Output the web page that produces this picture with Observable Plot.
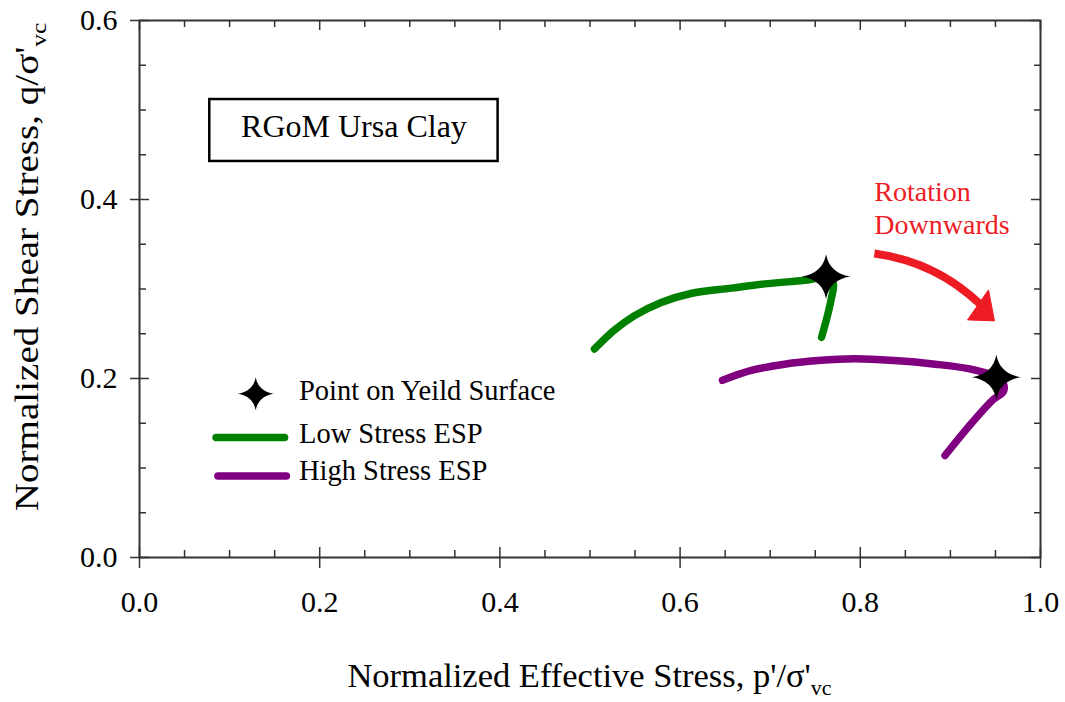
<!DOCTYPE html>
<html>
<head>
<meta charset="utf-8">
<script src="https://cdn.jsdelivr.net/npm/d3@7"></script>
<script src="https://cdn.jsdelivr.net/npm/@observablehq/plot@0.6"></script>
<style>
  html, body { margin: 0; padding: 0; background: #fff; }
  #chart { width: 1065px; height: 702px; }
</style>
</head>
<body>
<div id="chart"></div>
<script>
// ---- Data ----
const xMajorTicks = [0.0, 0.2, 0.4, 0.6, 0.8, 1.0];
const xMinorTicks = [0.05, 0.1, 0.15, 0.25, 0.3, 0.35, 0.45, 0.5, 0.55, 0.65, 0.7, 0.75, 0.85, 0.9, 0.95];
const yMajorTicks = [0.0, 0.2, 0.4, 0.6];
const yMinorTicks = [0.05, 0.1, 0.15, 0.25, 0.3, 0.35, 0.45, 0.5, 0.55];

const lowStressP = [0.505, 0.527, 0.549, 0.579, 0.612, 0.657, 0.697, 0.742, 0.762, 0.770, 0.768, 0.764, 0.757];
const lowStressQ = [0.233, 0.254, 0.270, 0.285, 0.295, 0.301, 0.306, 0.310, 0.313, 0.306, 0.290, 0.272, 0.246];

const highStressP = [0.647, 0.679, 0.716, 0.753, 0.794, 0.838, 0.883, 0.920, 0.946, 0.958, 0.959, 0.946, 0.920, 0.894];
const highStressQ = [0.198, 0.209, 0.216, 0.220, 0.222, 0.220, 0.216, 0.211, 0.204, 0.196, 0.186, 0.175, 0.146, 0.114];

const yieldP = [0.762, 0.951];
const yieldQ = [0.314, 0.2015];

const legendLabels = ["Point on Yeild Surface", "Low Stress ESP", "High Stress ESP"];

// ---- Annotation placement (data coordinates) ----
const annot = {
  box: {x1: 0.078, x2: 0.398, y1: 0.4425, y2: 0.5117, tx: 0.238, ty: 0.4816, text: "RGoM Ursa Clay"},
  legendStar: {x: 0.129, y: 0.183},
  legendLines: [
    {x1: 0.085, x2: 0.161, y: 0.134, color: "#008000"},
    {x1: 0.087, x2: 0.163, y: 0.091, color: "#800080"}
  ],
  legendText: {x: 0.177, ys: [0.1866, 0.1385, 0.097]},
  rotText: [{x: 0.8156, y: 0.4078, t: "Rotation"}, {x: 0.8156, y: 0.371, t: "Downwards"}],
  arrow: {x1: 0.8156, y1: 0.3397, x2: 0.933, y2: 0.283},
  arrowTip: {x: 0.9467, y: 0.2655}
};

const lowData = lowStressP.map((p, i) => ({p, q: lowStressQ[i]}));
const highData = highStressP.map((p, i) => ({p, q: highStressQ[i]}));
const yieldData = yieldP.map((p, i) => ({p, q: yieldQ[i]}));

// four-pointed concave star
const star4 = {
  draw(ctx, size) {
    const r = Math.sqrt(size / Math.PI);
    const rx = r * 1.05, ry = r * 0.97;
    const c = 0.15 * r;
    ctx.moveTo(rx, 0);
    ctx.quadraticCurveTo(c, c, 0, ry);
    ctx.quadraticCurveTo(-c, c, -rx, 0);
    ctx.quadraticCurveTo(-c, -c, 0, -ry);
    ctx.quadraticCurveTo(c, -c, rx, 0);
    ctx.closePath();
  }
};
// filled arrowhead, tip at origin, pointing down-right
const arrowHead = {
  draw(ctx, size) {
    const s = Math.sqrt(size / Math.PI) / 14;
    ctx.moveTo(2 * s, 1 * s);
    ctx.lineTo(-25 * s, 0);
    ctx.lineTo(-4 * s, -30 * s);
    ctx.closePath();
  }
};

const W = 1065, H = 702, mL = 139, mR = 25, mT = 20, mB = 145;
const innerW = W - mL - mR, innerH = H - mT - mB;
const axisColor = "#333";
const fontFam = "'Liberation Serif', 'Times New Roman', serif";

const plot = Plot.plot({
  width: W, height: H,
  marginLeft: mL, marginRight: mR, marginTop: mT, marginBottom: mB,
  x: {domain: [0, 1]},
  y: {domain: [0, 0.6]},
  style: {fontFamily: fontFam, background: "#fff", color: "#000"},
  marks: [
    Plot.frame({stroke: axisColor, strokeWidth: 2}),
    // outward major ticks + labels
    Plot.axisX({ticks: xMajorTicks, tickSize: 11, tickPadding: 22, tickFormat: d3.format(".1f"), fontSize: 30, stroke: axisColor, strokeWidth: 1.5, label: null, fill: "#000"}),
    Plot.axisY({ticks: yMajorTicks, tickSize: 9, tickPadding: 13, tickFormat: d3.format(".1f"), fontSize: 30, stroke: axisColor, strokeWidth: 1.5, label: null, fill: "#000"}),
    // inward ticks bottom
    Plot.tickX(xMajorTicks, {x: d => d, insetTop: innerH - 10, stroke: axisColor, strokeWidth: 1.5}),
    Plot.tickX(xMinorTicks, {x: d => d, insetTop: innerH - 7, stroke: axisColor, strokeWidth: 1.5}),
    // inward ticks top
    Plot.tickX(xMajorTicks, {x: d => d, insetBottom: innerH - 10, stroke: axisColor, strokeWidth: 1.5}),
    Plot.tickX(xMinorTicks, {x: d => d, insetBottom: innerH - 7, stroke: axisColor, strokeWidth: 1.5}),
    // inward ticks left
    Plot.tickY(yMajorTicks, {y: d => d, insetRight: innerW - 10, stroke: axisColor, strokeWidth: 1.5}),
    Plot.tickY(yMinorTicks, {y: d => d, insetRight: innerW - 7, stroke: axisColor, strokeWidth: 1.5}),
    // inward ticks right
    Plot.tickY(yMajorTicks, {y: d => d, insetLeft: innerW - 9, stroke: axisColor, strokeWidth: 1.5}),
    Plot.tickY(yMinorTicks, {y: d => d, insetLeft: innerW - 6, stroke: axisColor, strokeWidth: 1.5}),

    // title box
    Plot.rect([annot.box], {x1: "x1", x2: "x2", y1: "y1", y2: "y2", fill: "#fff", stroke: "#000", strokeWidth: 2.5}),
    Plot.text([annot.box], {x: "tx", y: "ty", text: "text", fontSize: 32, fill: "#000", fontFamily: fontFam}),

    // stress paths
    Plot.line(lowData, {x: "p", y: "q", stroke: "#008000", strokeWidth: 7.5, curve: "catmull-rom", strokeLinecap: "round", strokeLinejoin: "round"}),
    Plot.line(highData, {x: "p", y: "q", stroke: "#800080", strokeWidth: 7.5, curve: "catmull-rom", strokeLinecap: "round", strokeLinejoin: "round"}),
    Plot.dot(yieldData, {x: "p", y: "q", symbol: star4, r: 23, fill: "#000", stroke: "none"}),

    // legend
    Plot.dot([annot.legendStar], {x: "x", y: "y", symbol: star4, r: 17, fill: "#000", stroke: "none"}),
    Plot.link(annot.legendLines, {x1: "x1", x2: "x2", y1: "y", y2: "y", stroke: "color", strokeWidth: 7.5, strokeLinecap: "round"}),
    Plot.text(legendLabels, {x: annot.legendText.x, y: (d, i) => annot.legendText.ys[i], text: d => d, textAnchor: "start", fontSize: 28.5, fill: "#000", fontFamily: fontFam}),

    // rotation annotation
    Plot.text(annot.rotText, {x: "x", y: "y", text: "t", textAnchor: "start", fontSize: 28, fill: "#ED1C24", fontFamily: fontFam}),
    Plot.arrow([annot.arrow], {x1: "x1", y1: "y1", x2: "x2", y2: "y2", bend: 18, stroke: "#ED1C24", strokeWidth: 8, headLength: 0, strokeLinecap: "butt"}),
    Plot.dot([annot.arrowTip], {x: "x", y: "y", symbol: arrowHead, r: 14, fill: "#ED1C24", stroke: "#ED1C24", strokeWidth: 1})
  ]
});

document.getElementById("chart").appendChild(plot);

// axis titles with subscripts
const svg = d3.select(plot.tagName.toLowerCase() === "svg" ? plot : plot.querySelector("svg"));
const xt = svg.append("text")
  .attr("x", mL + innerW / 2).attr("y", 687)
  .attr("text-anchor", "middle")
  .attr("font-family", fontFam).attr("font-size", 34.5).attr("fill", "#000");
xt.append("tspan").text("Normalized Effective Stress, p'/σ'");
xt.append("tspan").attr("font-size", 22).attr("dy", 8).text("vc");

const yt = svg.append("text")
  .attr("transform", `translate(38, 267) rotate(-90) scale(1.15, 1)`)
  .attr("text-anchor", "middle")
  .attr("font-family", fontFam).attr("font-size", 34).attr("fill", "#000");
yt.append("tspan").text("Normalized Shear Stress, q/σ'");
yt.append("tspan").attr("font-size", 22).attr("dy", 8).text("vc");
</script>
</body>
</html>
